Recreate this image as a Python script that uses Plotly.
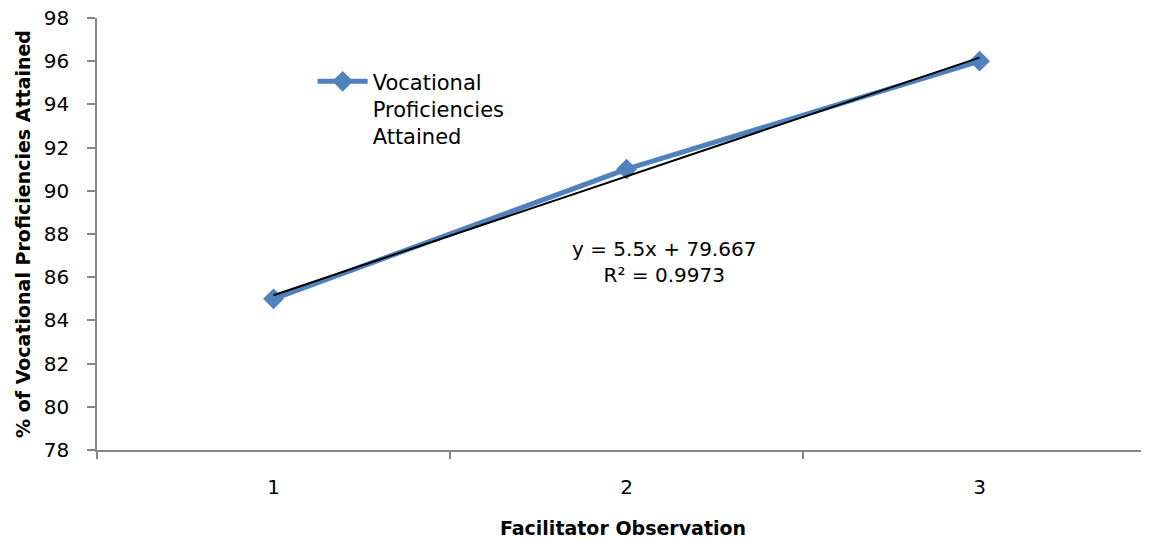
import plotly.graph_objects as go

categories = [1, 2, 3]
values = [85, 91, 96]
trend_x = [1, 3]
trend_y = [85.167, 96.167]
y_ticks = [78, 80, 82, 84, 86, 88, 90, 92, 94, 96, 98]
series_name = "Vocational<br>Proficiencies<br>Attained"
eq_text = "y = 5.5x + 79.667<br>R² = 0.9973"

FONT = "DejaVu Sans"
AX = "#868686"
BLUE = "#4F81BD"

fig = go.Figure()
fig.add_trace(go.Scatter(
    x=categories, y=values, mode="lines+markers", name=series_name,
    line=dict(color=BLUE, width=5),
    marker=dict(symbol="diamond", size=16, color=BLUE),
))
fig.add_trace(go.Scatter(
    x=trend_x, y=trend_y, mode="lines", showlegend=False,
    line=dict(color="black", width=2), hoverinfo="skip",
))

fig.add_annotation(x=2.106, y=86.7, xref="x", yref="y", text=eq_text,
                   showarrow=False, font=dict(family=FONT, size=20, color="black"),
                   align="center")

# the page body adds an 8px offset, so the figure is sized/margined to compensate
fig.update_layout(
    width=1141, height=531,
    margin=dict(l=89, r=0, t=10, b=89),
    paper_bgcolor="white", plot_bgcolor="white",
    font=dict(family=FONT, color="black"),
    legend=dict(x=0.205, y=0.90, xanchor="left", yanchor="top", valign="top",
                font=dict(family=FONT, size=21, color="black"),
                bgcolor="rgba(0,0,0,0)", itemwidth=50),
    xaxis=dict(
        range=[0.5, 3.48], tickvals=categories, ticktext=[str(c) for c in categories],
        ticks="", showline=True, linecolor=AX, linewidth=1.5,
        showgrid=False, zeroline=False, automargin=False,
        tickfont=dict(family=FONT, size=20, color="black"),
        ticklabelstandoff=18, ticklabeloverflow="allow",
        minor=dict(tickvals=[0.5, 1.5, 2.5, 3.5], ticks="outside", ticklen=7,
                   tickcolor=AX, tickwidth=1.5, showgrid=False),
        title=dict(text="<b>Facilitator Observation</b>",
                   font=dict(family=FONT, size=19, color="black"), standoff=27),
    ),
    yaxis=dict(
        range=[78, 98], tickvals=y_ticks, ticks="outside", ticklen=8,
        tickcolor=AX, tickwidth=1.5, showline=True, linecolor=AX, linewidth=1.5,
        showgrid=False, zeroline=False, automargin=False,
        tickfont=dict(family=FONT, size=20, color="black"),
        ticklabelstandoff=14, ticklabeloverflow="allow",
        title=dict(text="<b>% of Vocational Proficiencies Attained</b>",
                   font=dict(family=FONT, size=19, color="black"), standoff=8),
    ),
)

fig.write_html("out.html")
